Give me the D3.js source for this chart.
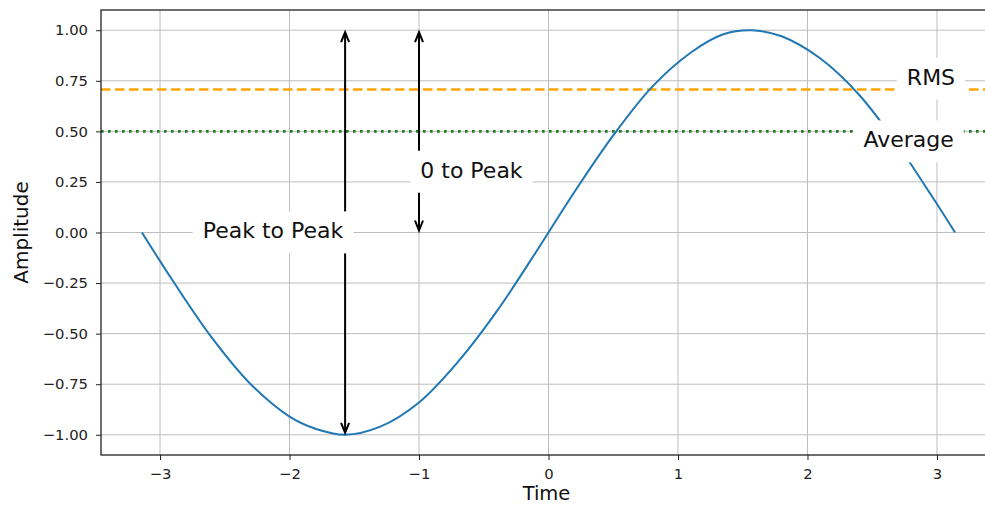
<!DOCTYPE html>
<html>
<head>
<meta charset="utf-8">
<script src="https://cdnjs.cloudflare.com/ajax/libs/d3/7.8.5/d3.min.js"></script>
<style>
  body { margin: 0; background: #fff; }
  svg { display: block; font-family: "DejaVu Sans", sans-serif; }
</style>
</head>
<body>
<svg id="chart" width="985" height="506"></svg>
<script>
// Curve samples (time, amplitude)
const time      = [-3.14, -2.9, -2.6, -2.3, -2.0, -1.8, -1.57, -1.3, -1.0, -0.7, -0.4, -0.1, 0.0, 0.2, 0.5, 0.8, 1.1, 1.35, 1.57, 1.8, 2.1, 2.4, 2.7, 2.95, 3.14];
const amplitude = [0.00, -0.24, -0.52, -0.75, -0.91, -0.97, -1.00, -0.96, -0.84, -0.64, -0.39, -0.10, 0.00, 0.20, 0.48, 0.72, 0.89, 0.98, 1.00, 0.97, 0.86, 0.68, 0.43, 0.19, 0.00];

const xTicks = [-3, -2, -1, 0, 1, 2, 3];
const yTicks = [-1, -0.75, -0.5, -0.25, 0, 0.25, 0.5, 0.75, 1];

const rmsLevel = 0.707;
const averageLevel = 0.5;

// arrows: x position, start value, end value
const arrowX    = [-1.5708, -1.0];
const arrowFrom = [-1, 0];
const arrowTo   = [1, 1];

// text labels with white boxes
const labelText   = ["Peak to Peak", "0 to Peak", "RMS", "Average"];
const labelX      = [-1.585, -0.99, 3.14, 3.13];
const labelY      = [0.01, 0.31, 0.77, 0.46];
const labelAnchor = ["end", "start", "end", "end"];

const svg = d3.select("#chart");
const plotLeft = 101, plotRight = 996, plotTop = 10, plotBottom = 455;

const x = d3.scaleLinear().domain([-3.456, 3.456]).range([plotLeft, plotRight]);
const y = d3.scaleLinear().domain([-1.1, 1.1]).range([plotBottom, plotTop]);

// gridlines
const grid = svg.append("g").attr("stroke", "#bdbdbd").attr("stroke-width", 1);
grid.selectAll(".vg").data(xTicks).enter().append("line")
    .attr("x1", d => x(d)).attr("x2", d => x(d))
    .attr("y1", plotTop).attr("y2", plotBottom);
grid.selectAll(".hg").data(yTicks).enter().append("line")
    .attr("x1", plotLeft).attr("x2", plotRight)
    .attr("y1", d => y(d)).attr("y2", d => y(d));

// RMS and average levels
svg.append("line")
    .attr("x1", plotLeft).attr("x2", plotRight)
    .attr("y1", y(rmsLevel)).attr("y2", y(rmsLevel))
    .attr("stroke", "#ffa500").attr("stroke-width", 2.6)
    .attr("stroke-dasharray", "9.5,4.5");
svg.append("line")
    .attr("x1", plotLeft).attr("x2", plotRight)
    .attr("y1", y(averageLevel)).attr("y2", y(averageLevel))
    .attr("stroke", "#1f7a1f").attr("stroke-width", 2.6)
    .attr("stroke-dasharray", "2.6,4.4");

// the signal
const line = d3.line()
    .x((d, i) => x(time[i]))
    .y(d => y(d))
    .curve(d3.curveCatmullRom);
svg.append("path")
    .datum(amplitude)
    .attr("d", line)
    .attr("fill", "none")
    .attr("stroke", "#1f77b4")
    .attr("stroke-width", 2);

// double headed arrows
function head(g, cx, cy, dir) {
    // dir = -1 points up, 1 points down
    g.append("path")
        .attr("d", `M${cx - 4},${cy - dir * 10} L${cx},${cy} L${cx + 4},${cy - dir * 10}`)
        .attr("fill", "none").attr("stroke", "#000").attr("stroke-width", 2);
}
arrowX.forEach((ax, i) => {
    const g = svg.append("g");
    const y1 = y(arrowTo[i]) + 2, y2 = y(arrowFrom[i]) - 2;
    g.append("line")
        .attr("x1", x(ax)).attr("x2", x(ax))
        .attr("y1", y1 + 1).attr("y2", y2 - 1)
        .attr("stroke", "#000").attr("stroke-width", 2);
    head(g, x(ax), y1, -1);
    head(g, x(ax), y2, 1);
});

// labels with white boxes
labelText.forEach((t, i) => {
    const g = svg.append("g");
    const txt = g.append("text")
        .attr("x", x(labelX[i]))
        .attr("y", y(labelY[i]))
        .attr("dy", "0.36em")
        .attr("text-anchor", labelAnchor[i])
        .attr("font-size", 22)
        .attr("fill", "#111")
        .text(t);
    const b = txt.node().getBBox();
    g.insert("rect", "text")
        .attr("x", b.x - 10).attr("y", b.y - 7)
        .attr("width", b.width + 20).attr("height", b.height + 17)
        .attr("fill", "#fff");
});

// axes
const xAxis = svg.append("g")
    .attr("transform", `translate(0,${plotBottom})`)
    .call(d3.axisBottom(x).tickValues(xTicks).tickSize(5).tickPadding(8).tickFormat(d3.format("d")));
const yAxis = svg.append("g")
    .attr("transform", `translate(${plotLeft},0)`)
    .call(d3.axisLeft(y).tickValues(yTicks).tickSize(5).tickPadding(8).tickFormat(d3.format(".2f")));
[xAxis, yAxis].forEach(a => {
    a.select(".domain").remove();
    a.selectAll("text").attr("font-size", 14.8).attr("fill", "#222")
        .attr("font-family", "DejaVu Sans, sans-serif");
    a.selectAll("line").attr("stroke", "#222").attr("stroke-width", 1);
});

// spines
svg.append("rect")
    .attr("x", plotLeft).attr("y", plotTop)
    .attr("width", plotRight - plotLeft).attr("height", plotBottom - plotTop)
    .attr("fill", "none").attr("stroke", "#222").attr("stroke-width", 1.3);

// axis titles
svg.append("text")
    .attr("x", (plotLeft + plotRight) / 2 - 2).attr("y", 500)
    .attr("text-anchor", "middle").attr("font-size", 19.5).attr("fill", "#111")
    .text("Time");
svg.append("text")
    .attr("transform", `translate(28,${(plotTop + plotBottom) / 2}) rotate(-90)`)
    .attr("text-anchor", "middle").attr("font-size", 20).attr("fill", "#111")
    .text("Amplitude");
</script>
</body>
</html>
